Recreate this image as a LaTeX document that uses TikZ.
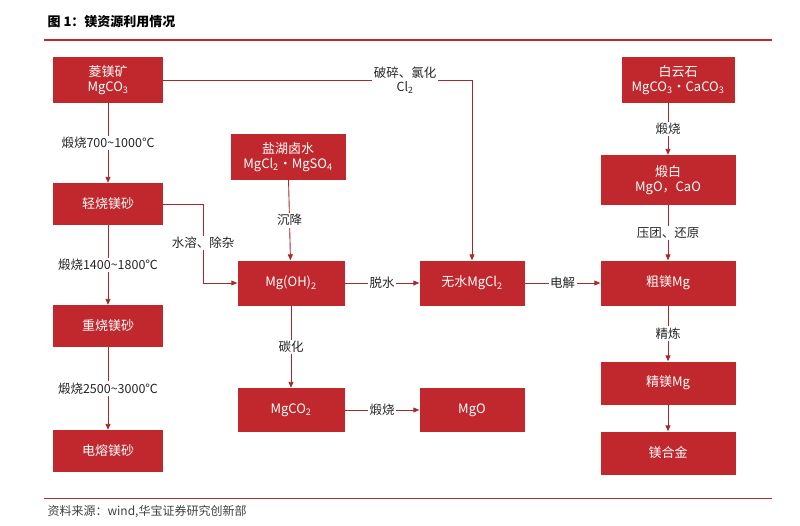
\documentclass[tikz,border=0pt]{standalone}
\usepackage{fontspec}
\setmainfont{Noto Sans CJK SC}
\usetikzlibrary{arrows.meta}
\definecolor{hr}{HTML}{C0282D}
\definecolor{ar}{HTML}{A52A2A}
\begin{document}
\begin{tikzpicture}[x=1pt,y=-1pt,
 box/.style={fill=hr,text=white,font=\fontsize{13}{15}\selectfont,align=center,inner sep=0pt},
 lab/.style={font=\fontsize{12.5}{14}\selectfont,text=black!85,fill=white,inner sep=1.5pt,align=center},
 arr/.style={draw=ar,line width=0.9pt,-{Triangle[length=6pt,width=5pt]}}]
\useasboundingbox (0,0) rectangle (800,525);
\node[anchor=west,font=\bfseries\fontsize{13}{15}\selectfont] (title) at (44,22) {图 1：镁资源利用情况};
\draw[hr,line width=1.6pt] (44,40) -- (772,40);
\draw[hr,line width=1pt] (44,498) -- (772,498);
\node[anchor=west,font=\fontsize{12}{14}\selectfont,text=black!75] (src) at (44,512) {资料来源：wind,华宝证券研究创新部};
\newcommand{\bx}[5]{\node[box,minimum width=#3,minimum height=#4] (#1) at #2 {#5};}
\bx{lm}{(108,80)}{110}{46}{菱镁矿\\MgCO\textsubscript{3}}
\bx{qs}{(108,204)}{110}{42}{轻烧镁砂}
\bx{zs}{(108,326)}{110}{42}{重烧镁砂}
\bx{dr}{(108,451)}{110}{42}{电熔镁砂}
\bx{yh}{(288,157)}{115}{46}{盐湖卤水\\MgCl\textsubscript{2}·MgSO\textsubscript{4}}
\bx{mo}{(291,283)}{107}{45}{Mg(OH)\textsubscript{2}}
\bx{mc}{(291,410)}{107}{44}{MgCO\textsubscript{2}}
\bx{ws}{(472,283)}{105}{45}{无水MgCl\textsubscript{2}}
\bx{mg}{(472,410)}{105}{44}{MgO}
\bx{by}{(678,80)}{113}{46}{白云石\\MgCO\textsubscript{3}·CaCO\textsubscript{3}}
\bx{db}{(668,180)}{135}{50}{煅白\\MgO，CaO}
\bx{cm}{(668,283)}{135}{45}{粗镁Mg}
\bx{jm}{(668,383)}{135}{43}{精镁Mg}
\bx{hj}{(668,453)}{135}{43}{镁合金}
\draw[arr] (lm.east) -- (ws.north |- lm.east) -- (ws.north);
\node[lab] (l1) at (405,80) {破碎、氯化\\Cl\textsubscript{2}};
\draw[arr] (lm) -- node[lab]{煅烧700\textasciitilde1000℃} (qs);
\draw[arr] (qs) -- node[lab]{煅烧1400\textasciitilde1800℃} (zs);
\draw[arr] (zs) -- node[lab]{煅烧2500\textasciitilde3000℃} (dr);
\draw[arr] (qs.east) -- (203,204) -- (203,283) -- (mo.west);
\node[lab] (l2) at (203,243) {水溶、除杂};
\draw[arr] (yh) -- node[lab]{沉降} (mo);
\draw[arr] (mo) -- node[lab]{脱水} (ws);
\draw[arr] (mo) -- node[lab]{碳化} (mc);
\draw[arr] (mc) -- node[lab]{煅烧} (mg);
\draw[arr] (ws) -- node[lab]{电解} (cm);
\draw[arr] (by.south -| db.north) -- node[lab]{煅烧} (db.north);
\draw[arr] (db) -- node[lab]{压团、还原} (cm);
\draw[arr] (cm) -- node[lab]{精炼} (jm);
\draw[arr] (jm) -- (hj);
\end{tikzpicture}
\end{document}
